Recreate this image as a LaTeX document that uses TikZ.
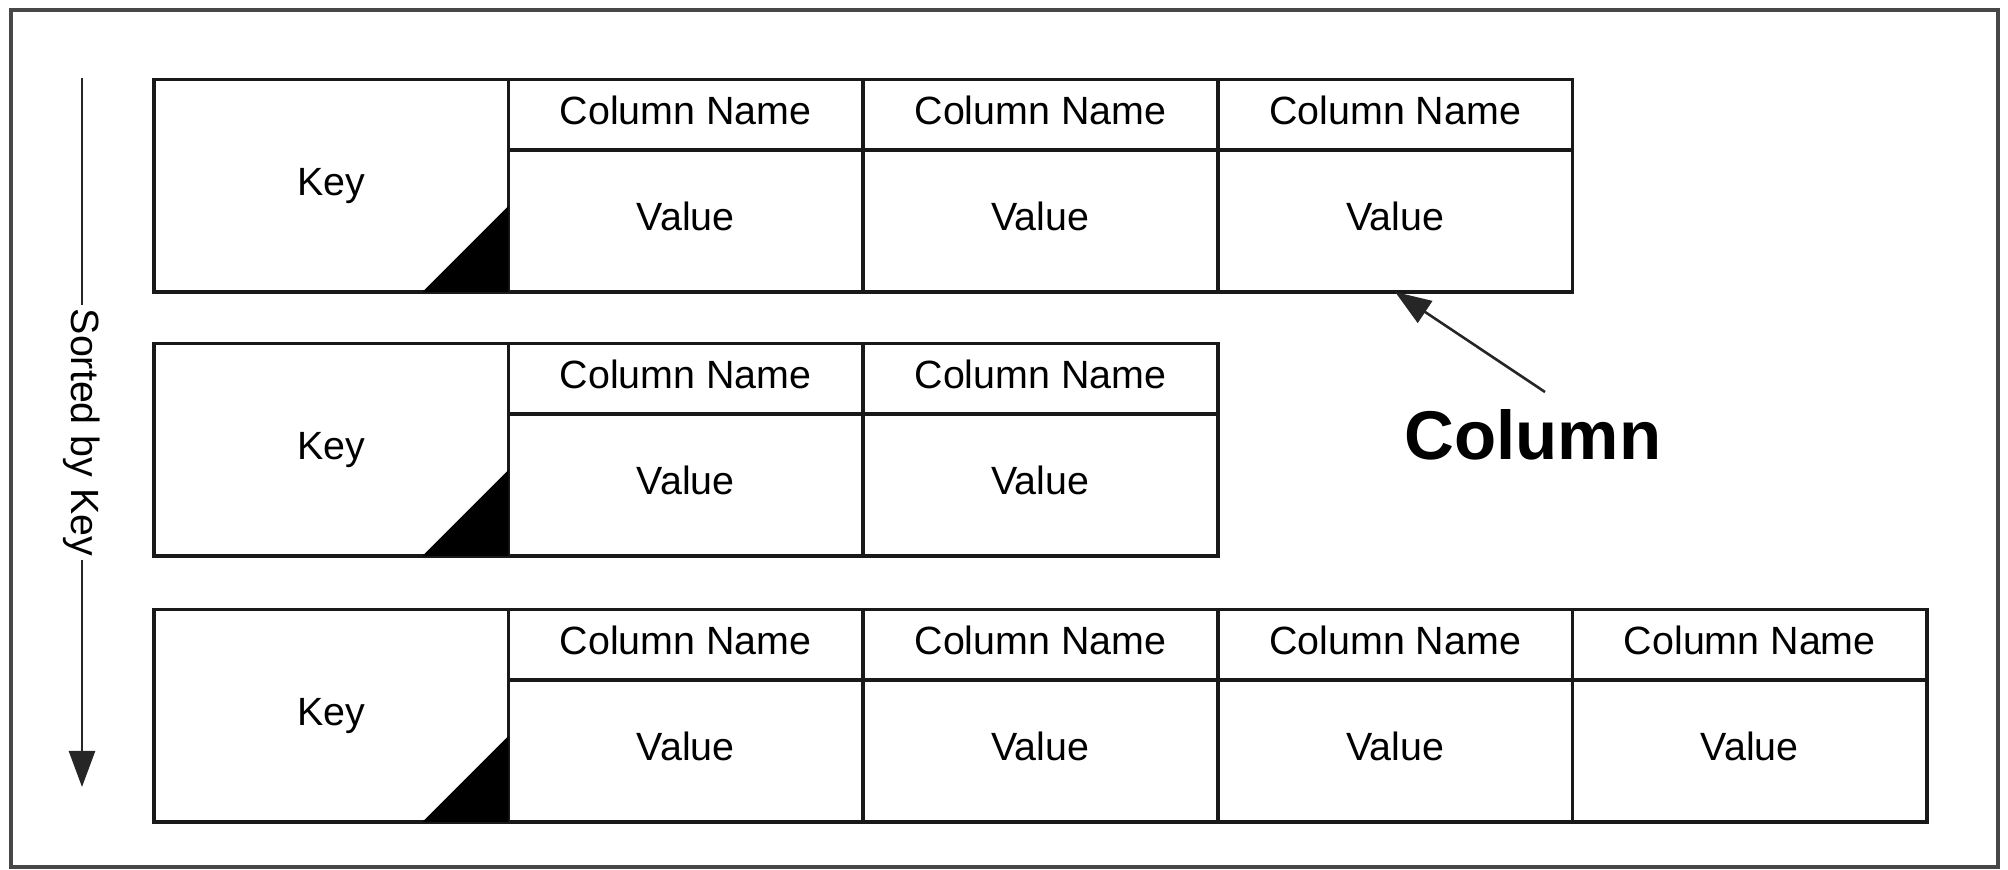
\documentclass[tikz,border=0pt]{standalone}
\usepackage{fontspec}
\setmainfont{Liberation Sans}
\usetikzlibrary{arrows.meta}
\newcommand\cellfont{\fontsize{19.7pt}{23pt}\selectfont}
\newcommand\bigfont{\bfseries\fontsize{34.5pt}{40pt}\selectfont}
\begin{document}
\begin{tikzpicture}[x=0.5pt,y=-0.5pt,
  cell/.style={draw=black!90, line width=1.8pt, inner sep=0pt, outer sep=0pt,
    minimum width=177.35pt, font=\cellfont, text height=14.2pt, text depth=4.4pt,
    anchor=north west},
  keycell/.style={cell, minimum height=106.25pt},
  headcell/.style={cell, minimum height=35.25pt},
  valcell/.style={cell, minimum height=71pt},
  wedge/.style={fill=black},
  frame/.style={draw=black!72, line width=2.2pt},
  pointer/.style={draw=black!85, line width=1.3pt, -{Triangle[length=18pt,width=13pt]}},
  sortlabel/.style={rotate=-90, fill=white, font=\cellfont, inner xsep=2pt, inner ysep=1pt}
]
\useasboundingbox (0,0) rectangle (2008,870);
\draw[frame] (11,10) rectangle (1998,867);

% Table 1
\node[keycell] (k1) at (153.7,79.5) {Key};
\node[headcell] (h11) at (k1.north east) {Column Name};
\node[valcell]  (v11) at (h11.south west) {Value};
\node[headcell] (h12) at (h11.north east) {Column Name};
\node[valcell]  (v12) at (h12.south west) {Value};
\node[headcell] (h13) at (h12.north east) {Column Name};
\node[valcell]  (v13) at (h13.south west) {Value};
\fill[wedge] (k1.south east) -- ++(0,-86) -- ++(-86,86) -- cycle;

% Table 2
\node[keycell] (k2) at (153.7,343.5) {Key};
\node[headcell] (h21) at (k2.north east) {Column Name};
\node[valcell]  (v21) at (h21.south west) {Value};
\node[headcell] (h22) at (h21.north east) {Column Name};
\node[valcell]  (v22) at (h22.south west) {Value};
\fill[wedge] (k2.south east) -- ++(0,-86) -- ++(-86,86) -- cycle;

% Table 3
\node[keycell] (k3) at (153.7,609.5) {Key};
\node[headcell] (h31) at (k3.north east) {Column Name};
\node[valcell]  (v31) at (h31.south west) {Value};
\node[headcell] (h32) at (h31.north east) {Column Name};
\node[valcell]  (v32) at (h32.south west) {Value};
\node[headcell] (h33) at (h32.north east) {Column Name};
\node[valcell]  (v33) at (h33.south west) {Value};
\node[headcell] (h34) at (h33.north east) {Column Name};
\node[valcell]  (v34) at (h34.south west) {Value};
\fill[wedge] (k3.south east) -- ++(0,-86) -- ++(-86,86) -- cycle;

% Sorted by key arrow
\coordinate (atop) at (82,78);
\coordinate (abot) at (82,787);
\draw[pointer] (atop) -- (abot) node[midway, sortlabel] (sorted) {Sorted by Key};

% Column label and pointer
\node[font=\bigfont, inner sep=0pt] (collabel) at (1533,435) {Column};
\coordinate (ctail) at (1545,392);
\draw[pointer] (ctail) -- (v13.south);
\end{tikzpicture}
\end{document}
